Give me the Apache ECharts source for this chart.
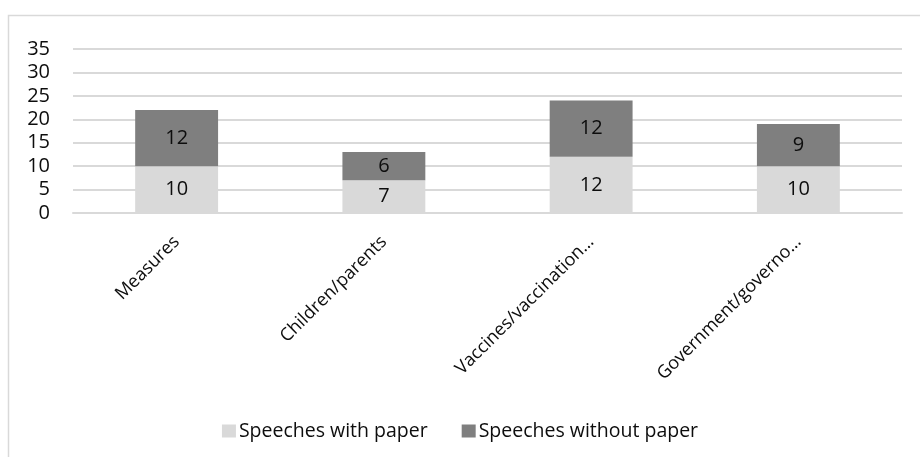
<!DOCTYPE html>
<html>
<head>
<meta charset="utf-8">
<script src="https://cdn.jsdelivr.net/npm/echarts@6/dist/echarts.min.js"></script>
<style>
  html, body { margin: 0; padding: 0; background: #fff; }
  #chart { width: 920px; height: 457px; }
</style>
</head>
<body>
<div id="chart"></div>
<script>
// Speech topics, split by whether the speech was read from paper
const categories = ['Measures', 'Children/parents', 'Vaccines/vaccination…', 'Government/governo…'];
const withPaper = [10, 7, 12, 10];
const withoutPaper = [12, 6, 12, 9];
const yTicks = { min: 0, max: 35, interval: 5 };

const FONT = '"Open Sans", "Noto Sans", sans-serif';
const TEXT = '#0d0d0d';

const chart = echarts.init(document.getElementById('chart'), null, { renderer: 'canvas' });

const barLabel = {
  show: true,
  position: 'inside',
  color: TEXT,
  fontFamily: FONT,
  fontSize: 20
};

chart.setOption({
  animation: false,
  backgroundColor: '#ffffff',
  graphic: [{
    type: 'rect',
    shape: { x: 8.5, y: 15.5, width: 1000, height: 1000 },
    style: { fill: 'none', stroke: '#d9d9d9', lineWidth: 1.5 },
    silent: true,
    z: -1
  }],
  grid: { left: 73, right: 18, top: 49, bottom: 244, containLabel: false },
  legend: {
    bottom: 11,
    left: 'center',
    itemWidth: 14,
    itemHeight: 13,
    itemGap: 34,
    icon: 'rect',
    textStyle: { color: TEXT, fontFamily: FONT, fontSize: 19.5, padding: [0, 0, 0, -2] },
    data: ['Speeches with paper', 'Speeches without paper']
  },
  xAxis: {
    type: 'category',
    data: categories,
    axisLine: { show: true, lineStyle: { color: '#d9d9d9', width: 2 } },
    axisTick: { show: false },
    axisLabel: {
      interval: 0,
      rotate: 45,
      margin: 26,
      color: TEXT,
      fontFamily: FONT,
      fontSize: 18
    }
  },
  yAxis: {
    type: 'value',
    min: yTicks.min,
    max: yTicks.max,
    interval: yTicks.interval,
    axisLine: { show: false },
    axisTick: { show: false },
    splitLine: { lineStyle: { color: '#d9d9d9', width: 2 } },
    axisLabel: {
      margin: 23,
      color: TEXT,
      fontFamily: FONT,
      fontSize: 20
    }
  },
  series: [
    {
      name: 'Speeches with paper',
      type: 'bar',
      stack: 'speeches',
      barWidth: '40%',
      itemStyle: { color: '#d9d9d9' },
      label: barLabel,
      data: withPaper
    },
    {
      name: 'Speeches without paper',
      type: 'bar',
      stack: 'speeches',
      barWidth: '40%',
      itemStyle: { color: '#7f7f7f' },
      label: barLabel,
      data: withoutPaper
    }
  ]
});
</script>
</body>
</html>
